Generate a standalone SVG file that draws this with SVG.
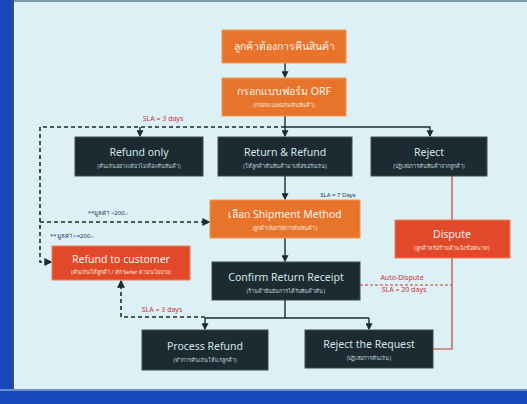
<svg xmlns="http://www.w3.org/2000/svg" width="527" height="404" viewBox="0 0 527 404">
<defs>
<style>
.bg{fill:#dcf0f5}
.or{fill:#e8742c;stroke:#f09a5a;stroke-width:1}
.rd{fill:#e2482a;stroke:#f08060;stroke-width:1}
.dk{fill:#1d2a31;stroke:#3c4c54;stroke-width:1}
.t{font-family:"Noto Sans","DejaVu Sans",sans-serif;text-anchor:middle}
.tw{fill:#fff3ea;font-size:10.5px}
.tl{fill:#cfe6ea;font-size:10.5px}
.sw{fill:#ffe6d6;font-size:5.5px}
.sl{fill:#b9d2d8;font-size:5.5px}
.ln{fill:none;stroke:#1d2a31;stroke-width:1.4}
.ds{fill:none;stroke:#1d2a31;stroke-width:1.6;stroke-dasharray:4 3}
.rl{fill:none;stroke:#c2413a;stroke-width:1.2}
.rds{fill:none;stroke:#c2413a;stroke-width:1.2;stroke-dasharray:3 2}
.red{fill:#c8343c;font-size:7px}
.nav{fill:#24345a;font-size:6px}
</style>
<marker id="ah" viewBox="0 0 6 6" refX="5" refY="3" markerWidth="5" markerHeight="5" orient="auto">
<path d="M0,0 L6,3 L0,6 z" fill="#1d2a31"/>
</marker>
</defs>
<rect class="bg" x="0" y="0" width="527" height="404"/>
<rect x="0" y="0" width="527" height="2" fill="#7d9aa8"/>
<rect x="0" y="0" width="12" height="404" fill="#1747b8"/>
<rect x="12" y="0" width="2" height="392" fill="#3a4f70"/>
<rect x="0" y="390" width="527" height="14" fill="#1747b8"/>
<rect x="0" y="389" width="527" height="2" fill="#6f8fc8"/>

<g id="connectors">
<line class="ln" x1="285" y1="63" x2="285" y2="77" marker-end="url(#ah)"/>
<line class="ln" x1="285" y1="116" x2="285" y2="136" marker-end="url(#ah)"/>
<polyline class="ds" points="285,127 40,127 40,262 51,262" marker-end="url(#ah)"/>
<polyline class="ln" points="285,127 430,127 430,136" marker-end="url(#ah)"/>
<line class="ln" x1="140" y1="127" x2="140" y2="136" marker-end="url(#ah)"/>
<line class="ln" x1="285" y1="176" x2="285" y2="199" marker-end="url(#ah)"/>
<line class="ds" x1="40" y1="222" x2="209" y2="222" marker-end="url(#ah)"/>
<line class="ln" x1="285" y1="238" x2="285" y2="261" marker-end="url(#ah)"/>
<line class="rl" x1="452" y1="176" x2="452" y2="220"/>
<polyline class="rl" points="452,258 452,349 433,349"/>
<line class="rds" x1="360" y1="285" x2="452" y2="285"/>
<polyline class="ln" points="285,300 285,318"/>
<polyline class="ln" points="205,318 369,318"/>
<line class="ln" x1="205" y1="318" x2="205" y2="329" marker-end="url(#ah)"/>
<line class="ln" x1="369" y1="318" x2="369" y2="329" marker-end="url(#ah)"/>
<polyline class="ds" points="205,317 121,317 121,281" marker-end="url(#ah)"/>
<text class="t red" x="163" y="121">SLA = 3 days</text>
<text class="t nav" x="338" y="197">SLA = 7 Days</text>
<text class="t nav" x="108" y="215">**มูลค่า &gt;200.-</text>
<text class="t nav" x="72" y="238">**มูลค่า &lt;=200.-</text>
<text class="t red" x="402" y="280">Auto-Dispute</text>
<text class="t red" x="404" y="292">SLA = 20 days</text>
<text class="t red" x="162" y="312">SLA = 3 days</text>
</g>

<g id="n1"><rect class="or" x="222" y="30" width="124" height="33"/>
<text class="t tw" x="284" y="50">ลูกค้าต้องการคืนสินค้า</text></g>
<g id="n2"><rect class="or" x="222" y="78" width="124" height="38"/>
<text class="t tw" x="284" y="95">กรอกแบบฟอร์ม ORF</text>
<text class="t sw" x="284" y="107">(กรอกแบบฟอร์มคืนสินค้า)</text></g>

<g id="n3"><rect class="dk" x="75" y="137" width="128" height="39"/>
<text class="t tl" x="139" y="156">Refund only</text>
<text class="t sl" x="139" y="168">(คืนเงินอย่างเดียวไม่ต้องคืนสินค้า)</text></g>
<g id="n4"><rect class="dk" x="218" y="137" width="134" height="39"/>
<text class="t tl" x="285" y="156">Return &amp; Refund</text>
<text class="t sl" x="285" y="168">(ให้ลูกค้าคืนสินค้ามาเพื่อขอรับเงิน)</text></g>
<g id="n5"><rect class="dk" x="371" y="137" width="116" height="39"/>
<text class="t tl" x="429" y="156">Reject</text>
<text class="t sl" x="429" y="168">(ปฏิเสธการคืนสินค้าจากลูกค้า)</text></g>

<g id="n6"><rect class="or" x="210" y="200" width="150" height="38"/>
<text class="t tw" x="285" y="218">เลือก Shipment Method</text>
<text class="t sw" x="285" y="230">(ลูกค้าเลือกวิธีการคืนสินค้า)</text></g>

<g id="n7"><rect class="rd" x="52" y="246" width="138" height="34"/>
<text class="t tw" x="121" y="263">Refund to customer</text>
<text class="t sw" x="121" y="274">(คืนเงินให้ลูกค้า / หัก Seller ตามนโยบาย)</text></g>

<g id="n8"><rect class="rd" x="395" y="220" width="115" height="38"/>
<text class="t tw" x="452" y="238">Dispute</text>
<text class="t sw" x="452" y="250">(ลูกค้าหรือร้านค้าแจ้งข้อพิพาท)</text></g>

<g id="n9"><rect class="dk" x="212" y="262" width="148" height="38"/>
<text class="t tl" x="286" y="281">Confirm Return Receipt</text>
<text class="t sl" x="286" y="293">(ร้านค้ายืนยันการได้รับสินค้าคืน)</text></g>

<g id="n10"><rect class="dk" x="142" y="330" width="126" height="40"/>
<text class="t tl" x="205" y="350">Process Refund</text>
<text class="t sl" x="205" y="362">(ทำการคืนเงินให้แก่ลูกค้า)</text></g>
<g id="n11"><rect class="dk" x="305" y="330" width="128" height="38"/>
<text class="t tl" x="369" y="348">Reject the Request</text>
<text class="t sl" x="369" y="360">(ปฏิเสธการคืนเงิน)</text></g>
</svg>
